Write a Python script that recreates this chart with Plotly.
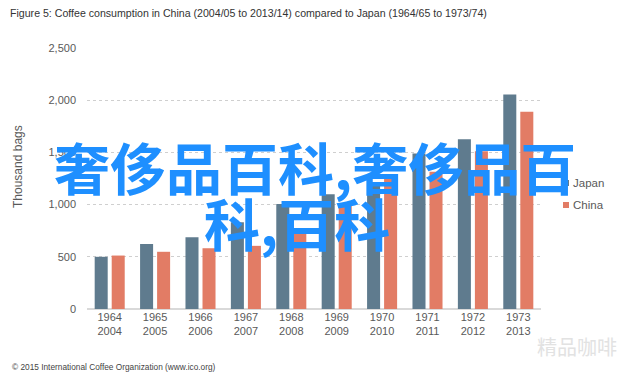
import plotly.graph_objects as go

years_japan = ["1964", "1965", "1966", "1967", "1968", "1969", "1970", "1971", "1972", "1973"]
years_china = ["2004", "2005", "2006", "2007", "2008", "2009", "2010", "2011", "2012", "2013"]
categories = [f"{a}<br>{b}" for a, b in zip(years_japan, years_china)]
japan = [500, 622, 688, 830, 1005, 1100, 1200, 1490, 1625, 2055]
china = [512, 548, 582, 605, 760, 1005, 1270, 1315, 1510, 1890]
series_names = ["Japan", "China"]
y_ticks = [0, 500, 1000, 1500, 2000, 2500]

JAPAN_C = "#5f7b8e"
CHINA_C = "#e27c65"
TXT = "#595959"
colors = [JAPAN_C, CHINA_C]

fig = go.Figure()
fig.add_bar(x=categories, y=japan, name=series_names[0], marker_color=JAPAN_C, marker_line_width=0)
fig.add_bar(x=categories, y=china, name=series_names[1], marker_color=CHINA_C, marker_line_width=0)

W, H = 640, 377
L, R, T, B = 87, 99, 48, 68
PW, PH = W - L - R, H - T - B


def px_x(x):
    return (x - L) / PW


def px_y(y):
    return (H - B - y) / PH


fig.update_layout(
    width=W, height=H,
    margin=dict(l=L, r=R, t=T, b=B),
    paper_bgcolor="white", plot_bgcolor="white",
    barmode="group", bargap=0.25, bargroupgap=0.235,
    font=dict(family="Liberation Sans, Arial, sans-serif", color=TXT, size=11),
    showlegend=False,
    xaxis=dict(showgrid=False, showline=False, ticks="", tickfont=dict(size=11, color=TXT)),
    yaxis=dict(range=[0, 2500], tickvals=y_ticks, tickformat=",d",
               showgrid=True, gridcolor="#cfcfcf", griddash="dot", gridwidth=1,
               zeroline=True, zerolinecolor="#d9d9d9", zerolinewidth=1.5,
               showline=False, ticks="", ticklabelstandoff=10,
               tickfont=dict(size=11, color=TXT)),
)

# legend drawn as small squares + labels
for i, (nm, c) in enumerate(zip(series_names, colors)):
    yc = 183 + 22 * i
    fig.add_shape(type="rect", xref="paper", yref="paper",
                  x0=px_x(563), x1=px_x(569), y0=px_y(yc + 3), y1=px_y(yc - 3),
                  fillcolor=c, line_width=0)
    fig.add_annotation(text=nm, xref="paper", yref="paper", x=px_x(571), y=px_y(yc),
                       xanchor="left", yanchor="middle", showarrow=False,
                       font=dict(size=11.5, color=TXT))

fig.add_annotation(text="Figure 5: Coffee consumption in China (2004/05 to 2013/14) compared to Japan (1964/65 to 1973/74)",
                   xref="paper", yref="paper", x=px_x(8), y=px_y(13),
                   xanchor="left", yanchor="middle", showarrow=False,
                   font=dict(family="Liberation Sans, Arial, sans-serif", size=10.6, color="#333333"))
fig.add_annotation(text="Thousand bags", textangle=-90,
                   xref="paper", yref="paper", x=px_x(18), y=px_y(167),
                   xanchor="center", yanchor="middle", showarrow=False,
                   font=dict(size=12, color=TXT))
fig.add_annotation(text="© 2015 International Coffee Organization (www.ico.org)",
                   xref="paper", yref="paper", x=px_x(10), y=px_y(367),
                   xanchor="left", yanchor="middle", showarrow=False,
                   font=dict(size=8.3, color="#444444"))
fig.add_annotation(text="精品咖啡",
                   xref="paper", yref="paper", x=px_x(577), y=px_y(346),
                   xanchor="center", yanchor="middle", showarrow=False,
                   font=dict(family="Noto Sans CJK SC", size=20, color="#e2e2e2"))

# overlay watermark text
ov_font = dict(family="Noto Sans CJK SC", size=56, color="#1e8fff", weight="bold")
fig.add_annotation(text="奢侈品百科,奢侈品百",
                   xref="paper", yref="paper", x=px_x(315), y=px_y(165),
                   xanchor="center", yanchor="middle", showarrow=False, font=ov_font)
fig.add_annotation(text="科,百科",
                   xref="paper", yref="paper", x=px_x(297), y=px_y(221),
                   xanchor="center", yanchor="middle", showarrow=False, font=ov_font)

fig.write_html("out.html", config={"displayModeBar": False})

# remove default page margin so the figure sits at the top-left corner
with open("out.html", encoding="utf-8") as f:
    html = f.read()
html = html.replace("<head>", "<head><style>html,body{margin:0;padding:0;}</style>", 1)
with open("out.html", "w", encoding="utf-8") as f:
    f.write(html)
